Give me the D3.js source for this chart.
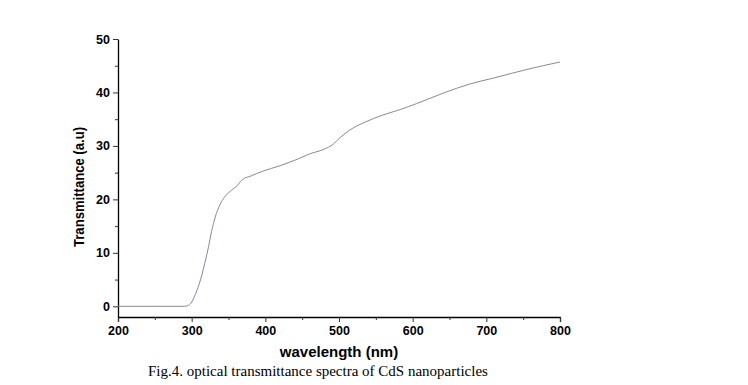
<!DOCTYPE html>
<html>
<head>
<meta charset="utf-8">
<script src="https://cdn.jsdelivr.net/npm/d3@7"></script>
<style>
  body { margin: 0; background: #fff; }
  text { fill: #000; }
</style>
</head>
<body>
<script>
// values
var wavelength = [200, 250, 290, 296, 300, 303, 307, 310, 314, 318, 323, 327, 332, 338, 345, 354, 362, 366, 370, 379, 397, 420, 445, 460, 480, 492, 501, 515, 533, 560, 583, 605, 642, 678, 710, 755, 800];
var transmittance = [0, 0, 0, 0.2, 0.8, 1.6, 2.9, 4.1, 5.9, 8.2, 11.2, 14.0, 16.7, 18.9, 20.5, 21.7, 22.6, 23.3, 23.8, 24.3, 25.3, 26.3, 27.6, 28.5, 29.4, 30.3, 31.5, 33.0, 34.3, 35.8, 36.8, 37.9, 39.9, 41.6, 42.7, 44.3, 45.7];
var xTicks = [200, 300, 400, 500, 600, 700, 800];
var yTicks = [0, 10, 20, 30, 40, 50];

var data = wavelength.map(function(w, i) { return {w: w, t: transmittance[i]}; });

var margin = {top: 39, left: 118},
    width = 560 - 118,
    height = 317 - 39;

var svg = d3.select('body')
  .append("svg")
    .attr("width", 748)
    .attr("height", 385)
  .append("g")
    .attr("transform", "translate(" + margin.left + "," + margin.top + ")");

var x = d3.scaleLinear().domain([200, 800]).range([0, width]);
var y = d3.scaleLinear().domain([-2, 50]).range([height, 0]);

// X axis
svg.append("g")
  .attr("transform", "translate(0," + height + ")")
  .call(d3.axisBottom(x).tickValues(xTicks).tickSize(5).tickPadding(4).tickFormat(d3.format("d")));
svg.append("g")
  .attr("transform", "translate(0," + height + ")")
  .call(d3.axisBottom(x).tickValues(d3.range(250, 800, 100)).tickSize(3).tickFormat(""))
  .select(".domain").remove();

// Y axis
svg.append("g")
  .call(d3.axisLeft(y).tickValues(yTicks).tickSize(5).tickPadding(3).tickSizeOuter(0));
svg.append("g")
  .call(d3.axisLeft(y).tickValues(d3.range(5, 50, 10)).tickSize(3).tickFormat(""))
  .select(".domain").remove();

svg.selectAll(".domain").attr("stroke-width", 1.3);
svg.selectAll(".tick line").attr("stroke", "#333");
svg.selectAll(".tick text")
  .style("font-family", "Liberation Sans, Arial, sans-serif")
  .style("font-weight", "bold")
  .style("font-size", "12.5px");

// the curve
svg.append("path")
  .datum(data)
  .attr("fill", "none")
  .attr("stroke", "#8f8591")
  .attr("stroke-width", 1)
  .attr("d", d3.line()
    .curve(d3.curveMonotoneX)
    .x(function(d) { return x(d.w); })
    .y(function(d) { return y(d.t); }));

// titles
svg.append("text")
  .attr("x", 339 - margin.left)
  .attr("y", 357 - margin.top)
  .attr("text-anchor", "middle")
  .style("font-family", "Liberation Sans, Arial, sans-serif")
  .style("font-weight", "bold")
  .style("font-size", "15px")
  .text("wavelength (nm)");

svg.append("text")
  .attr("transform", "translate(" + (84 - margin.left) + "," + (187 - margin.top) + ") rotate(-90)")
  .attr("text-anchor", "middle")
  .style("font-family", "Liberation Sans, Arial, sans-serif")
  .style("font-weight", "bold")
  .style("font-size", "15px")
  .attr("textLength", 120)
  .attr("lengthAdjust", "spacingAndGlyphs")
  .text("Transmittance (a.u)");

svg.append("text")
  .attr("x", 148 - margin.left)
  .attr("y", 376 - margin.top)
  .style("font-family", "Liberation Serif, Times New Roman, serif")
  .style("font-size", "15px")
  .text("Fig.4. optical transmittance spectra of CdS nanoparticles");
</script>
</body>
</html>
